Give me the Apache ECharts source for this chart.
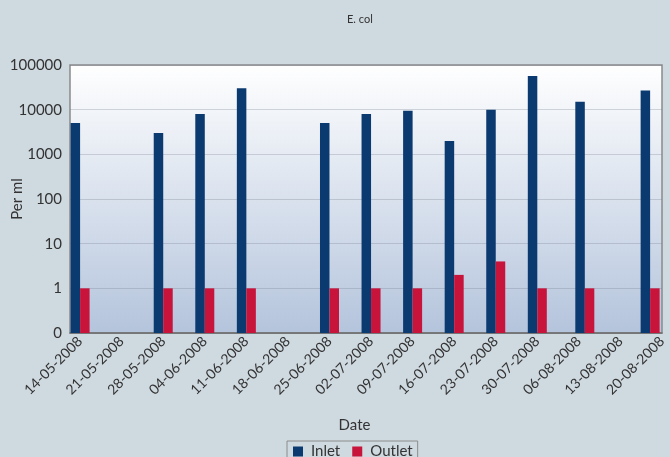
<!DOCTYPE html>
<html>
<head>
<meta charset="utf-8">
<title>E. col</title>
<script src="https://cdn.jsdelivr.net/npm/echarts@6/dist/echarts.min.js"></script>
<style>
  html, body { margin: 0; padding: 0; background: #cfd9e0; }
  #chart { width: 670px; height: 457px; }
</style>
</head>
<body>
<div id="chart"></div>
<script>
// Sampling dates (dd-mm-yyyy) and E. coli counts per ml
const sampleDates = ['14-05-2008', '28-05-2008', '04-06-2008', '11-06-2008', '25-06-2008', '02-07-2008',
                     '09-07-2008', '16-07-2008', '23-07-2008', '30-07-2008', '07-08-2008', '18-08-2008'];
const inletValues  = [5000, 3000, 8000, 30000, 5000, 8000, 9500, 2000, 10000, 57000, 15000, 27000];
const outletValues = [1, 1, 1, 1, 1, 1, 1, 2, 4, 1, 1, 1];

// Weekly date labels along the x axis
const tickLabels = ['14-05-2008', '21-05-2008', '28-05-2008', '04-06-2008', '11-06-2008', '18-06-2008',
                    '25-06-2008', '02-07-2008', '09-07-2008', '16-07-2008', '23-07-2008', '30-07-2008',
                    '06-08-2008', '13-08-2008', '20-08-2008'];

const seriesNames = ['Inlet', 'Outlet'];
const seriesColors = ['#0b3a70', '#c8133b'];

// Dates become day offsets from the first weekly label
function toUTC(s) {
  const p = s.split('-').map(Number);
  return Date.UTC(p[2], p[1] - 1, p[0]);
}
const origin = toUTC(tickLabels[0]);
const dayOf = s => Math.round((toUTC(s) - origin) / 86400000);
const tickDays = tickLabels.map(dayOf);
const labelByDay = {};
tickDays.forEach((d, i) => { labelByDay[d] = tickLabels[i]; });

const FONT = 'Lato';
const TEXT = '#333333';

const chart = echarts.init(document.getElementById('chart'), null, { renderer: 'canvas' });

chart.setOption({
  animation: false,
  backgroundColor: '#cfd9e0',
  textStyle: { fontFamily: FONT, color: TEXT },
  title: {
    text: 'E. col',
    left: 347,
    top: 14,
    padding: 0,
    textStyle: { fontFamily: FONT, fontSize: 11, fontWeight: 'normal', color: TEXT }
  },
  legend: {
    data: seriesNames,
    left: 287,
    top: 441,
    padding: [3, 5, 3, 6],
    itemWidth: 10,
    itemHeight: 10,
    itemGap: 12,
    icon: 'rect',
    borderColor: '#8c8c8c',
    borderWidth: 1,
    textStyle: { fontFamily: FONT, fontSize: 15, color: TEXT, padding: [0, 0, 0, 3] }
  },
  grid: {
    left: 70,
    right: 8,
    top: 65,
    bottom: 124,
    containLabel: false,
    outerBoundsMode: 'none',
    show: true,
    borderColor: '#8a8a8a',
    borderWidth: 1.5,
    backgroundColor: {
      type: 'linear', x: 0, y: 0, x2: 0, y2: 1,
      colorStops: [
        { offset: 0, color: '#ffffff' },
        { offset: 1, color: '#b4c4dc' }
      ]
    }
  },
  xAxis: {
    type: 'value',
    min: -1.7,
    max: tickDays[tickDays.length - 1],
    name: 'Date',
    nameLocation: 'middle',
    nameGap: 85,
    nameMoveOverlap: false,
    nameTextStyle: { fontFamily: FONT, fontSize: 15, color: TEXT, padding: [0, 23, 0, 0] },
    axisLine: { show: true, lineStyle: { color: '#6e6e6e', width: 1.5 } },
    axisTick: { show: false, customValues: tickDays },
    splitLine: { show: false },
    axisLabel: {
      customValues: tickDays,
      rotate: 45,
      margin: 6,
      fontFamily: FONT,
      fontSize: 14,
      color: TEXT,
      formatter: v => labelByDay[Math.round(v)] || ''
    }
  },
  yAxis: {
    type: 'log',
    logBase: 10,
    min: 0.1,
    max: 100000,
    startValue: 0.1,
    splitNumber: 6,
    name: 'Per ml',
    nameLocation: 'middle',
    nameGap: 45,
    nameMoveOverlap: false,
    nameTextStyle: { fontFamily: FONT, fontSize: 15, color: TEXT },
    axisLine: { show: false },
    axisTick: { show: false },
    splitLine: { show: true, lineStyle: { color: 'rgba(110,120,135,0.28)', width: 1.2 } },
    axisLabel: {
      margin: 8,
      fontFamily: FONT,
      fontSize: 15,
      color: TEXT,
      formatter: v => (v < 1 ? '0' : String(Math.round(v)))
    }
  },
  series: [
    {
      name: seriesNames[0],
      type: 'bar',
      barWidth: 9.5,
      barGap: '0%',
      itemStyle: { color: seriesColors[0] },
      data: sampleDates.map((d, i) => [dayOf(d), inletValues[i]])
    },
    {
      name: seriesNames[1],
      type: 'bar',
      barWidth: 9.5,
      barGap: '0%',
      itemStyle: { color: seriesColors[1] },
      data: sampleDates.map((d, i) => [dayOf(d), outletValues[i]])
    }
  ]
});
</script>
</body>
</html>
